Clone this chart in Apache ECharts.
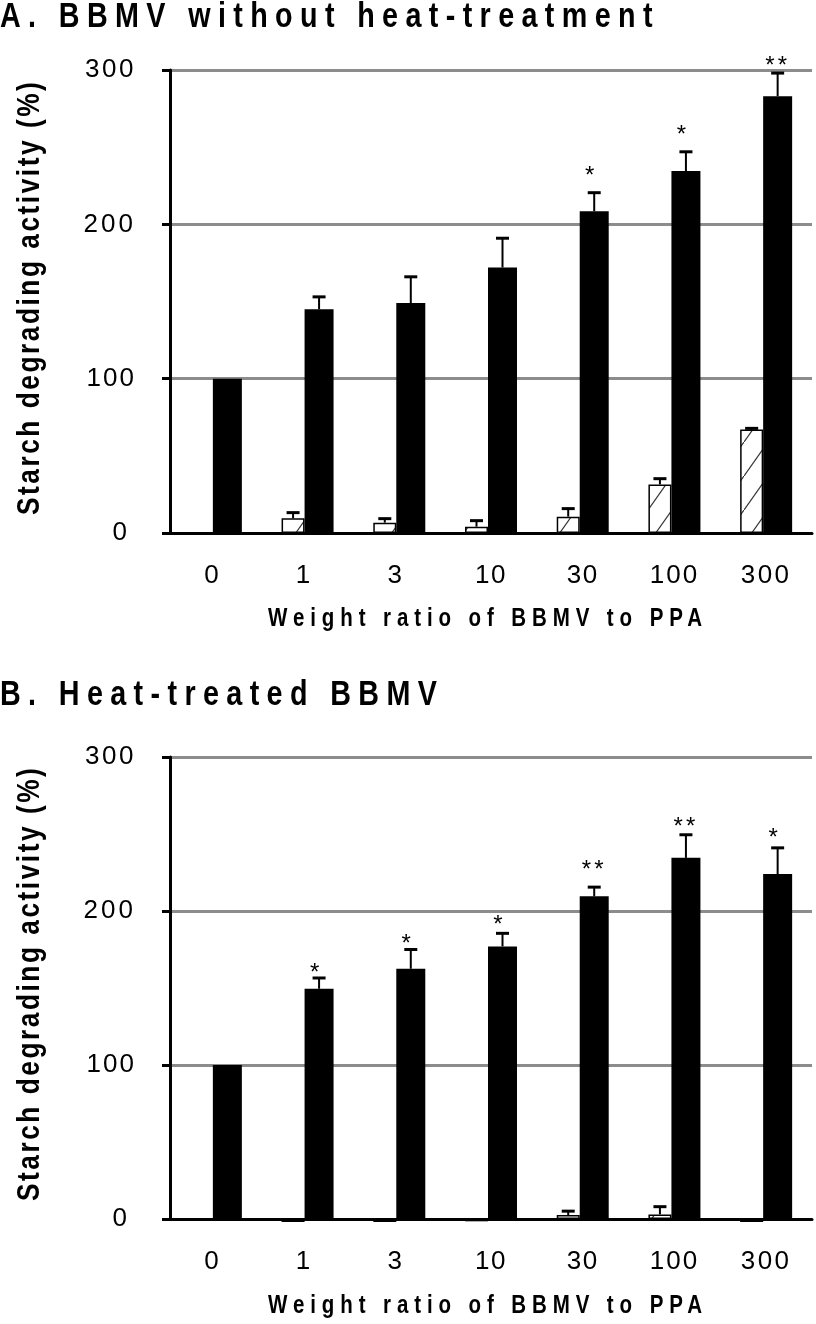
<!DOCTYPE html>
<html>
<head>
<meta charset="utf-8">
<script src="https://cdn.jsdelivr.net/npm/echarts@6/dist/echarts.min.js"></script>
<style>
html,body{margin:0;padding:0;background:#fff;}
#c{width:816px;height:1324px;}
</style>
</head>
<body>
<div id="c"></div>
<script>
// ---------------- data ----------------
const categories = ['0', '1', '3', '10', '30', '100', '300'];

const titleA = 'A. BBMV without heat-treatment';
const titleB = 'B. Heat-treated BBMV';
const xAxisName = 'Weight ratio of BBMV to PPA';
const yAxisName = 'Starch degrading activity (%)';

// Panel A (BBMV without heat-treatment)
const hatchA   = [null, 9.5, 6.7, 4.1, 10.6, 31.5, 67];
const hatchSdA = [null, 3.7, 2.6, 3.9, 5.2, 3.7, 0.8];
const solidA   = [100, 145, 149, 172, 208.5, 234.5, 283];
const solidSdA = [0, 8, 17, 19, 12, 12.5, 15];
const starsA   = ['', '', '', '', '*', '*', '**'];
const starPosA = [null, null, null, null, 235, 261, 306];

// Panel B (heat-treated BBMV)
const hatchB   = [null, -2, -2, -1.5, 2.6, 3, -2];
const hatchSdB = [null, 0, 0, 0, 2.5, 5, 0];
const solidB   = [100, 149.5, 162.5, 177, 209.5, 234.5, 224];
const solidSdB = [0, 7, 12.5, 8.5, 6, 15, 17];
const starsB   = ['', '*', '*', '*', '**', '**', '*'];
const starPosB = [null, 163, 182, 194, 230, 258, 251];

// ---------------- text letter spacing ----------------
const SPACING = new Map([
  [titleA, 9.0], [titleB, 9.0], [xAxisName, 7.2], [yAxisName, 3.1],
  ['100', 2], ['200', 3], ['300', 2.5], ['10', 1.5], ['30', 1.5], ['**', 3]
]);
(function () {
  const proto = CanvasRenderingContext2D.prototype;
  const orig = proto.fillText;
  proto.fillText = function (t) {
    const sp = SPACING.get(String(t));
    if (sp && ('letterSpacing' in this)) {
      const prev = this.letterSpacing;
      this.letterSpacing = sp + 'px';
      orig.apply(this, arguments);
      this.letterSpacing = prev;
    } else {
      orig.apply(this, arguments);
    }
  };
})();

// ---------------- styling ----------------
const SANS = "'Liberation Sans', Arial, sans-serif";
const NARROW_SCALE = 0.82;
const HATCH_W = 23, SOLID_W = 29;
const HATCH_OFF = -(HATCH_W + SOLID_W) / 2 + HATCH_W / 2;
const SOLID_OFF = -(HATCH_W + SOLID_W) / 2 + HATCH_W + SOLID_W / 2;

function makeHatch() {
  const w = 24, h = 34;
  const c = document.createElement('canvas');
  c.width = w; c.height = h;
  const g = c.getContext('2d');
  g.fillStyle = '#fff';
  g.fillRect(0, 0, w, h);
  g.strokeStyle = '#333';
  g.lineWidth = 1.2;
  g.beginPath();
  g.moveTo(-2, h + 2 * h / w);
  g.lineTo(w + 2, -2 * h / w);
  g.stroke();
  return c;
}
const hatchPattern = { image: makeHatch(), repeat: 'repeat' };

const panels = [
  { top: 70, height: 463, hatch: hatchA, hatchSd: hatchSdA, solid: solidA, solidSd: solidSdA, stars: starsA, starPos: starPosA },
  { top: 757, height: 462, hatch: hatchB, hatchSd: hatchSdB, solid: solidB, solidSd: solidSdB, stars: starsB, starPos: starPosB }
];

function errSeries(k, means, sds, off) {
  return {
    type: 'custom', xAxisIndex: k, yAxisIndex: k, z: 4, silent: true, clip: false,
    encode: { x: 0, y: 1 },
    data: means.map((m, i) => [i, m == null ? NaN : m, sds[i] == null ? 0 : sds[i]]),
    renderItem: function (params, api) {
      const i = api.value(0), m = api.value(1), s = api.value(2);
      if (isNaN(m) || !s) return null;
      const b = api.coord([i, m]);
      const t = api.coord([i, m + s]);
      const x = b[0] + off;
      return {
        type: 'group', children: [
          { type: 'line', shape: { x1: x, y1: b[1], x2: x, y2: t[1] }, style: { stroke: '#000', lineWidth: 2 } },
          { type: 'line', shape: { x1: x - 6.5, y1: t[1], x2: x + 6.5, y2: t[1] }, style: { stroke: '#000', lineWidth: 3 } }
        ]
      };
    }
  };
}

function starSeries(k, stars, pos) {
  return {
    type: 'custom', xAxisIndex: k, yAxisIndex: k, z: 4, silent: true, clip: false,
    encode: { x: 0, y: 1 },
    data: pos.map((p, i) => [i, p == null ? NaN : p]),
    renderItem: function (params, api) {
      const i = api.value(0), p = api.value(1);
      const txt = stars[params.dataIndex];
      if (isNaN(p) || !txt) return null;
      const c = api.coord([i, p]);
      return {
        type: 'text',
        style: {
          text: txt, x: c[0] + SOLID_OFF, y: c[1] + 5.6,
          fontSize: 24, fontFamily: SANS, fill: '#000',
          align: 'center', verticalAlign: 'middle'
        }
      };
    }
  };
}

const grid = [], xAxis = [], yAxis = [], series = [];
panels.forEach((p, k) => {
  grid.push({ left: 170, top: p.top, width: 642, height: p.height, containLabel: false });
  xAxis.push({
    type: 'category', gridIndex: k, data: categories, z: 3,
    axisLine: { lineStyle: { color: '#000', width: 3 } },
    axisTick: { length: 11, lineStyle: { color: '#000', width: 3 } },
    axisLabel: { margin: 30, fontSize: 26, fontFamily: SANS, color: '#000', interval: 0 },
    splitLine: { show: false }
  });
  yAxis.push({
    type: 'value', gridIndex: k, min: 0, max: 300, interval: 100,
    axisLine: { show: true, lineStyle: { color: '#000', width: 3 } },
    axisTick: { show: true, length: 8, lineStyle: { color: '#000', width: 3 } },
    axisLabel: { margin: 34, fontSize: 26, fontFamily: SANS, color: '#000' },
    splitLine: { show: true, lineStyle: { color: '#8c8c8c', width: 3 } }
  });
  series.push({
    type: 'bar', xAxisIndex: k, yAxisIndex: k, data: p.hatch.map(v => v == null ? '-' : v),
    barWidth: HATCH_W, barGap: '0%', clip: false, silent: true,
    itemStyle: { color: hatchPattern, borderColor: '#000', borderWidth: 1.5 }
  });
  series.push({
    type: 'bar', xAxisIndex: k, yAxisIndex: k, data: p.solid,
    barWidth: SOLID_W, barGap: '0%', clip: false, silent: true,
    itemStyle: { color: '#000' }
  });
  series.push(errSeries(k, p.hatch, p.hatchSd, HATCH_OFF));
  series.push(errSeries(k, p.solid, p.solidSd, SOLID_OFF));
  series.push(starSeries(k, p.stars, p.starPos));
});

const boldText = (size) => ({ fontSize: size, fontWeight: 'bold', fontFamily: SANS, fill: '#000' });

const graphic = [
  { type: 'text', x: 0, y: 17.5, scaleX: NARROW_SCALE, style: Object.assign({ text: titleA, align: 'left', verticalAlign: 'middle' }, boldText(35)) },
  { type: 'text', x: 0, y: 695.5, scaleX: NARROW_SCALE, style: Object.assign({ text: titleB, align: 'left', verticalAlign: 'middle' }, boldText(35)) },
  { type: 'text', x: 488, y: 619, scaleX: NARROW_SCALE, style: Object.assign({ text: xAxisName, align: 'center', verticalAlign: 'middle' }, boldText(25)) },
  { type: 'text', x: 488, y: 1306, scaleX: NARROW_SCALE, style: Object.assign({ text: xAxisName, align: 'center', verticalAlign: 'middle' }, boldText(25)) },
  { type: 'text', x: 30, y: 515, rotation: Math.PI / 2, scaleX: NARROW_SCALE, style: Object.assign({ text: yAxisName, align: 'left', verticalAlign: 'middle' }, boldText(32)) },
  { type: 'text', x: 30, y: 1201, rotation: Math.PI / 2, scaleX: NARROW_SCALE, style: Object.assign({ text: yAxisName, align: 'left', verticalAlign: 'middle' }, boldText(32)) }
];

const chart = echarts.init(document.getElementById('c'), null, { renderer: 'canvas' });
chart.setOption({
  animation: false,
  backgroundColor: '#fff',
  grid, xAxis, yAxis, series, graphic
});
</script>
</body>
</html>
